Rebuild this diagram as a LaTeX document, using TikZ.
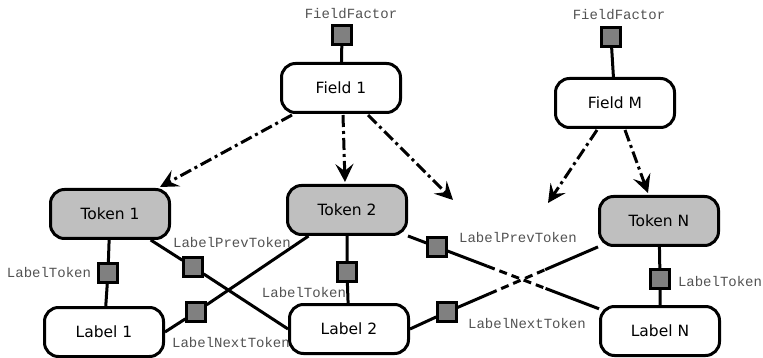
\documentclass[tikz,border=0pt]{standalone}
\usepackage{fontspec}
\setmainfont{DejaVu Sans}
\newfontfamily\monofont{Liberation Mono}
\usetikzlibrary{arrows.meta,calc,backgrounds}
\begin{document}
\begin{tikzpicture}[x=1pt,y=-1pt,
  box/.style={draw, rounded corners=14pt, line width=3pt, minimum width=119pt,
    minimum height=49pt, inner sep=0pt, font=\fontsize{15.5}{18}\selectfont},
  field/.style={box, fill=white},
  tok/.style={box, fill=gray!50},
  lab/.style={box, fill=white},
  fac/.style={draw, fill=gray, line width=2.8pt, minimum size=18.5pt, inner sep=0pt},
  ftxt/.style={font=\monofont\fontsize{14}{16}\selectfont, text=black!68, inner sep=0pt},
  link/.style={line width=3pt},
  gapline/.style={line width=3pt, dash pattern=on 8pt off 5pt},
  flow/.style={line width=3pt, dash pattern=on 12pt off 4pt on 3pt off 4pt,
    -{Stealth[length=18pt,width=18pt,inset=7pt]}}]
\useasboundingbox (0,0) rectangle (763,358);

% fields
\node[field] (f1) at (341,88) {Field 1};
\node[field] (fm) at (615,103) {Field M};
\node[fac] (ff1) at (342,35) {};
\node[fac] (ffm) at (611,37) {};
\node[ftxt] at (351,14) {FieldFactor};
\node[ftxt] at (619,15) {FieldFactor};

% tokens and labels
\node[tok] (t1) at (110,214) {Token 1};
\node[tok] (t2) at (347,210) {Token 2};
\node[tok] (tn) at (659,221) {Token N};
\node[lab] (l1) at (104,332) {Label 1};
\node[lab] (l2) at (349,329) {Label 2};
\node[lab] (ln) at (660,331) {Label N};

% factor squares
\node[fac] (lt1) at (108,273) {};
\node[fac] (lt2) at (347,272) {};
\node[fac] (ltn) at (660,279) {};
\node[fac] (pv1) at (193,267) {};
\node[fac] (nx1) at (196,312) {};
\node[fac] (pv2) at (437,247) {};
\node[fac] (nx2) at (447,312) {};

% factor names
\node[ftxt] at (49,272) {LabelToken};
\node[ftxt] at (304,292) {LabelToken};
\node[ftxt] at (720,281) {LabelToken};
\node[ftxt] at (232,242) {LabelPrevToken};
\node[ftxt] at (231,342) {LabelNextToken};
\node[ftxt] at (518,237) {LabelPrevToken};
\node[ftxt] at (527,323) {LabelNextToken};

% loose arrow ends
\coordinate (e1) at (453,200);
\coordinate (e2) at (548,203);

\begin{scope}[on background layer]
  \draw[link] (ff1) -- (f1);
  \draw[link] (ffm) -- (fm);
  \draw[link] (t1) -- (lt1) -- (l1);
  \draw[link] (t2) -- (lt2) -- (l2);
  \draw[link] (tn) -- (ltn) -- (ln);
  \draw[link] (t1) -- (pv1) -- (l2.west);
  \draw[link] (l1.east) -- (nx1) -- (t2);
  % crossing links with a broken middle part
  \draw[link] (t2.south east) -- (pv2) -- ($(pv2)!0.31!(ln.160)$);
  \draw[gapline] ($(pv2)!0.31!(ln.160)$) -- ($(pv2)!0.67!(ln.160)$);
  \draw[link] ($(pv2)!0.67!(ln.160)$) -- (ln.160);
  \draw[link] (l2.east) -- (nx2) -- ($(nx2)!0.28!(tn.203)$);
  \draw[gapline] ($(nx2)!0.28!(tn.203)$) -- ($(nx2)!0.65!(tn.203)$);
  \draw[link] ($(nx2)!0.65!(tn.203)$) -- (tn.203);
\end{scope}

% field-to-token arrows
\draw[flow] ($(f1.south)+(-49,1)$) -- ($(t1.north)+(50,-1)$);
\draw[flow] ($(f1.south)+(2,1)$) -- ($(t2.north)+(-2,-2)$);
\draw[flow] ($(f1.south)+(27,1)$) -- (e1);
\draw[flow] ($(fm.south)+(-18,1)$) -- (e2);
\draw[flow] ($(fm.south)+(10,1)$) -- ($(tn.north)+(-11,-2)$);
\end{tikzpicture}
\end{document}
